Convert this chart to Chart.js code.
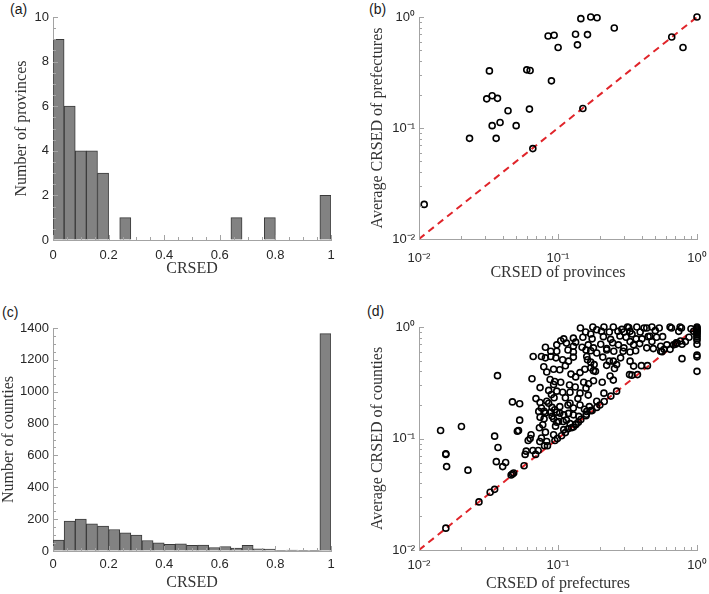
<!DOCTYPE html>
<html><head><meta charset="utf-8">
<script src="https://cdn.jsdelivr.net/npm/chart.js@4"></script>
<style>
body{margin:0;background:#fff;width:709px;height:594px;position:relative;overflow:hidden;}
canvas{position:absolute;}
.lbl{position:absolute;font:14px "Liberation Sans",Arial,sans-serif;color:#1a1a1a;line-height:16px;}
</style></head><body>
<div class="lbl" style="left:10px;top:1px">(a)</div>
<div class="lbl" style="left:369px;top:1px">(b)</div>
<div class="lbl" style="left:2px;top:304px">(c)</div>
<div class="lbl" style="left:367px;top:303px">(d)</div>
<canvas id="ca" width="340" height="290" style="left:0;top:0"></canvas>
<canvas id="cb" width="369" height="290" style="left:340px;top:0"></canvas>
<canvas id="cc" width="340" height="299" style="left:0;top:295px"></canvas>
<canvas id="cd" width="369" height="299" style="left:340px;top:295px"></canvas>
<script>
// ---------- DATA ----------
const binCenters = [0.02,0.06,0.10,0.14,0.18,0.22,0.26,0.30,0.34,0.38,0.42,0.46,0.50,0.54,0.58,0.62,0.66,0.70,0.74,0.78,0.82,0.86,0.90,0.94,0.98];
const provinceCounts = [9,6,4,4,3,0,1,0,0,0,0,0,0,0,0,0,1,0,0,1,0,0,0,0,2];
const countyCounts = [68,188,201,171,156,135,114,100,66,51,42,45,36,37,22,28,18,36,14,12,2,5,2,1,1365];
const linearXTicks = [0,0.2,0.4,0.6,0.8,1];
const logTicks = [0.01,0.1,1];
const logTickLabels = ['10\u207B\u00B2','10\u207B\u00B9','10\u2070'];
const diagonal = [[0.01,0.01],[1,1]];

// (b) province CRSED vs average prefecture CRSED
const provincePoints = [
 [0.0109,0.0205],[0.0231,0.0807],[0.0321,0.327],[0.0307,0.183],[0.0336,0.195],[0.0367,0.185],
 [0.0336,0.105],[0.0359,0.0807],[0.0383,0.112],[0.0437,0.143],[0.05,0.105],[0.0596,0.334],
 [0.063,0.33],[0.0623,0.148],[0.0659,0.0652],[0.0849,0.675],[0.0938,0.684],[0.0897,0.266],
 [0.1002,0.531],[0.1337,0.699],[0.138,0.561],[0.146,0.966],[0.151,0.15],[0.163,0.694],
 [0.172,1.0],[0.191,0.986],[0.254,0.796],[0.658,0.661],[0.793,0.531],[1.0,1.0]
];

// (d) prefecture CRSED vs average county CRSED
const prefecturePoints = [
 [0.145,0.98],[0.178,1.0],[0.214,1.0],[0.25,1.0],[0.316,1.0],[0.323,0.99],[0.369,1.0],[0.435,0.98],[0.474,1.0],[0.64,1.0],[0.655,0.98],[0.756,1.0],[0.773,0.98],[0.905,0.966],
 [0.158,0.902],[0.19,0.946],[0.172,0.865],[0.2055,0.914],[0.234,0.902],[0.27,0.914],[0.288,0.953],[0.298,0.902],[0.33,0.914],[0.341,0.865],[0.39,0.902],[0.416,0.98],[0.445,0.819],[0.501,0.927],[0.512,0.808],[0.566,0.819],[0.535,0.98],[0.739,0.914],[0.876,0.808],[0.946,0.914],[0.11,0.783],[0.129,0.794],[0.151,0.808],[0.176,0.783],[0.212,0.819],[0.239,0.775],[0.279,0.83],[0.309,0.808],[0.365,0.783],[0.402,0.783],[0.458,0.825],
 [0.098,0.692],[0.1046,0.752],[0.115,0.717],[0.129,0.671],[0.134,0.731],[0.149,0.658],[0.165,0.692],[0.18,0.65],[0.203,0.70],[0.224,0.64],[0.247,0.723],[0.272,0.692],[0.298,0.65],[0.33,0.74],[0.35,0.692],[0.387,0.71],[0.435,0.65],[0.474,0.74],[0.485,0.64],[0.548,0.671],[0.607,0.692],[0.678,0.692],[0.71,0.72],[0.825,0.74],[0.0812,0.658],[0.0887,0.606],[0.098,0.606],[0.118,0.622],[0.129,0.597],[0.159,0.622],[0.172,0.613],[0.19,0.585],[0.224,0.622],[0.252,0.606],[0.294,0.606],[0.33,0.597],[0.362,0.613],
 [0.0663,0.544],[0.076,0.544],[0.0887,0.544],[0.0812,0.529],[0.0967,0.529],[0.108,0.508],[0.119,0.494],[0.129,0.537],[0.161,0.544],[0.163,0.508],[0.172,0.484],[0.182,0.46],[0.21,0.537],[0.234,0.494],[0.25,0.494],[0.264,0.46],[0.282,0.529],[0.33,0.494],[0.35,0.446],[0.548,0.606],[0.64,0.63],[0.079,0.44],[0.093,0.418],[0.083,0.395],[0.103,0.413],[0.113,0.449],[0.124,0.378],[0.144,0.39],[0.156,0.418],[0.172,0.43],[0.18,0.406],[0.186,0.4],[0.224,0.453],[0.237,0.364],[0.255,0.425],[0.398,0.45],[0.373,0.374],
 [0.0367,0.366],[0.065,0.343],[0.0877,0.338],[0.0947,0.325],[0.1046,0.32],[0.121,0.302],[0.134,0.357],[0.153,0.32],[0.166,0.31],[0.18,0.33],[0.208,0.32],[0.159,0.283],[0.0743,0.286],[0.093,0.305],[0.0857,0.27],[0.098,0.266],[0.108,0.26],[0.122,0.26],[0.133,0.29],[0.144,0.255],[0.165,0.245],[0.214,0.255],[0.25,0.334],[0.264,0.266],[0.327,0.374],
 [0.0694,0.228],[0.0743,0.21],[0.083,0.216],[0.0897,0.248],[0.0937,0.232],[0.0857,0.207],[0.0906,0.19],[0.0947,0.181],[0.098,0.172],[0.103,0.193],[0.113,0.232],[0.118,0.2],[0.122,0.207],[0.129,0.188],[0.139,0.228],[0.144,0.2],[0.155,0.183],[0.161,0.175],[0.168,0.193],[0.172,0.178],[0.19,0.216],[0.2,0.2],[0.076,0.188],[0.0794,0.175],[0.0727,0.175],[0.0812,0.169],[0.0887,0.172],[0.103,0.169],[0.11,0.163],[0.119,0.168],[0.129,0.163],[0.141,0.158],[0.047,0.213],[0.053,0.205],
 [0.053,0.146],[0.052,0.118],[0.051,0.116],[0.0743,0.155],[0.0794,0.15],[0.0777,0.133],[0.0735,0.125],[0.0812,0.114],[0.0906,0.158],[0.093,0.15],[0.098,0.14],[0.101,0.142],[0.096,0.129],[0.109,0.142],[0.115,0.146],[0.122,0.136],[0.134,0.133],[0.146,0.148],[0.159,0.16],[0.176,0.178],[0.129,0.127],[0.11,0.12],[0.118,0.122],[0.093,0.108],
 [0.035,0.105],[0.037,0.083],[0.058,0.072],[0.059,0.077],[0.061,0.096],[0.063,0.1],[0.064,0.108],[0.066,0.078],[0.069,0.072],[0.072,0.078],[0.074,0.094],[0.076,0.101],[0.083,0.094],[0.084,0.086],[0.095,0.096],[0.099,0.1],[0.106,0.106],[0.113,0.113],[0.0143,0.118],[0.0202,0.128],[0.0156,0.073],[0.0156,0.072],[0.0158,0.056],[0.0225,0.052],[0.036,0.062],[0.040,0.056],[0.042,0.061],[0.057,0.057],
 [0.0156,0.0157],[0.027,0.027],[0.0325,0.033],[0.035,0.035],[0.046,0.047],[0.047,0.048],[0.048,0.049],[0.08,0.086],[0.125,0.125],[0.135,0.135],[0.14,0.14],[0.16,0.165],[0.19,0.19],[0.215,0.215],[0.24,0.24],[0.34,0.37],[0.44,0.45],[0.56,0.6],[0.58,0.63],[0.7,0.7],[0.72,0.72],[0.76,0.75],[0.78,0.52],[0.78,0.7],
 [1,1],[1,0.98],[1,0.96],[1,0.94],[1,0.92],[1,0.9],[1,0.88],[1,0.85],[1,0.82],[1,0.79],[1,0.76],[1,0.7],[1,0.56],[1,0.54],[1,0.4]
];

// ---------- STYLE ----------
const AXIS = '#a3a3a3';
const TXT = '#262626';
const SANS = "'Liberation Sans', Arial, sans-serif";
const SERIF = "'Liberation Serif', 'Times New Roman', serif";

const inwardTicks = {
  id: 'inwardTicks',
  afterDraw(chart, args, o) {
    const ctx = chart.ctx, ca = chart.chartArea;
    ctx.save(); ctx.strokeStyle = AXIS; ctx.lineWidth = 1;
    const draw = (scale, vals, len) => {
      vals.forEach(v => {
        if (v < scale.min - 1e-9 || v > scale.max + 1e-9) return;
        const p = Math.round(scale.getPixelForValue(v)) + 0.5;
        ctx.beginPath();
        if (scale.isHorizontal()) { ctx.moveTo(p, ca.bottom); ctx.lineTo(p, ca.bottom - len); }
        else { ctx.moveTo(ca.left, p); ctx.lineTo(ca.left + len, p); }
        ctx.stroke();
      });
    };
    ['x','y'].forEach(k => {
      const s = chart.scales[k];
      draw(s, s.ticks.map(t => t.value), 5);
      draw(s, o[k + 'Minor'] || [], 3);
    });
    ctx.restore();
  }
};

function stepList(min, max, step) { const a = []; for (let v = min; v <= max + 1e-9; v += step) a.push(+v.toFixed(6)); return a; }
const logMinor = []; [0.01, 0.1].forEach(d => { for (let k = 2; k <= 9; k++) logMinor.push(+(k * d).toFixed(6)); });

function axisX(cfg) {
  return {
    type: cfg.type, min: cfg.min, max: cfg.max, offset: false,
    afterFit: s => { s.height = cfg.h; s.paddingLeft = 0; s.paddingRight = 0; },
    afterBuildTicks: s => { s.ticks = cfg.ticks.map(v => ({ value: v })); },
    grid: { display: true, drawOnChartArea: false, drawTicks: false, color: AXIS },
    border: { display: true, color: AXIS, width: 1 },
    ticks: { color: TXT, font: { family: SANS, size: 13 }, padding: cfg.tpad, maxRotation: 0, autoSkip: false, callback: cfg.cb },
    title: { display: true, text: cfg.title, color: '#333', font: { family: SERIF, size: 16, lineHeight: 1 }, padding: { top: 0, bottom: cfg.titlePad } }
  };
}
function axisY(cfg) {
  return {
    type: cfg.type, min: cfg.min, max: cfg.max,
    afterFit: s => { s.width = cfg.w; s.paddingTop = 0; s.paddingBottom = 0; },
    afterBuildTicks: s => { s.ticks = cfg.ticks.map(v => ({ value: v })); },
    grid: { display: true, drawOnChartArea: false, drawTicks: false, color: AXIS },
    border: { display: true, color: AXIS, width: 1 },
    ticks: { color: TXT, font: { family: SANS, size: 13 }, padding: cfg.tpad, autoSkip: false, callback: cfg.cb },
    title: { display: true, text: cfg.title, color: '#333', font: { family: SERIF, size: 16, lineHeight: 1 }, padding: { top: cfg.titlePad, bottom: 0 } }
  };
}
const logLabel = v => { const i = logTicks.indexOf(v); return i >= 0 ? logTickLabels[i] : ''; };
const linLabel = v => String(v);

function histChart(id, counts, yMax, yStep, yMinorStep, yTitle, pad, yTitlePad, xh, xTickPad, xTitlePad) {
  new Chart(document.getElementById(id), {
    type: 'bar',
    data: { datasets: [{
      data: binCenters.map((c, i) => ({ x: c, y: counts[i] })),
      backgroundColor: '#828282', borderColor: '#3a3a3a', borderWidth: 1,
      barPercentage: 1, categoryPercentage: 1, borderSkipped: 'start'
    }]},
    options: {
      responsive: false, animation: false,
      layout: { padding: pad, autoPadding: false },
      plugins: { legend: { display: false }, tooltip: { enabled: false },
        inwardTicks: { xMinor: stepList(0, 1, 0.05), yMinor: stepList(0, yMax, yMinorStep) } },
      scales: {
        x: axisX({ type: 'linear', min: 0, max: 1, h: xh, ticks: linearXTicks, tpad: xTickPad, cb: linLabel, title: 'CRSED', titlePad: xTitlePad }),
        y: axisY({ type: 'linear', min: 0, max: yMax, w: 53, ticks: stepList(0, yMax, yStep), tpad: 4, cb: linLabel, title: yTitle, titlePad: yTitlePad })
      }
    },
    plugins: [inwardTicks]
  });
}

function scatterChart(id, points, xTitle, yTitle, pad, xh, xTickPad, xTitlePad) {
  new Chart(document.getElementById(id), {
    type: 'scatter',
    data: { datasets: [
      { data: points.map(p => ({ x: p[0], y: p[1] })), order: 0, clip: false,
        pointStyle: 'circle', pointRadius: 3, pointBorderWidth: 1.6,
        pointBorderColor: '#000', pointBackgroundColor: 'rgba(0,0,0,0)', showLine: false },
      { type: 'line', data: diagonal.map(p => ({ x: p[0], y: p[1] })), order: 1,
        borderColor: '#e0242a', borderWidth: 2, borderDash: [7, 5], pointRadius: 0, fill: false }
    ]},
    options: {
      responsive: false, animation: false,
      layout: { padding: pad, autoPadding: false },
      plugins: { legend: { display: false }, tooltip: { enabled: false },
        inwardTicks: { xMinor: logMinor, yMinor: logMinor } },
      scales: {
        x: axisX({ type: 'logarithmic', min: 0.01, max: 1, h: xh, ticks: logTicks, tpad: xTickPad, cb: logLabel, title: xTitle, titlePad: xTitlePad }),
        y: axisY({ type: 'logarithmic', min: 0.01, max: 1, w: 79, ticks: logTicks, tpad: 4, cb: logLabel, title: yTitle, titlePad: 30 })
      }
    },
    plugins: [inwardTicks]
  });
}

histChart('ca', provinceCounts, 10, 2, 0.5, 'Number of provinces', { left: 0, right: 9, top: 17, bottom: 0 }, 14, 50, 8, 13);
scatterChart('cb', provincePoints, 'CRSED of provinces', 'Average CRSED of prefectures', { left: 0, right: 12, top: 17, bottom: 0 }, 51, 12, 9);
histChart('cc', countyCounts, 1400, 200, 50, 'Number of counties', { left: 0, right: 9, top: 33, bottom: 0 }, 1, 43, 6, 3);
scatterChart('cd', prefecturePoints, 'CRSED of prefectures', 'Average CRSED of counties', { left: 0, right: 12, top: 32, bottom: 0 }, 44, 8, 2);
</script>
</body></html>
